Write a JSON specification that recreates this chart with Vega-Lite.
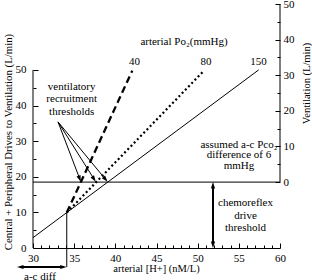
{
  "$schema": "https://vega.github.io/schema/vega-lite/v6.json",
  "width": 247,
  "height": 244,
  "autosize": {"type": "none"},
  "padding": {"left": 33, "top": 4, "right": 32, "bottom": 32},
  "config": {
    "view": {"stroke": null},
    "font": "Liberation Serif",
    "axis": {
      "grid": false,
      "labelFont": "Liberation Serif",
      "titleFont": "Liberation Serif",
      "labelColor": "black",
      "titleColor": "black",
      "tickColor": "black",
      "domainColor": "black",
      "labelFontSize": 11,
      "titleFontSize": 10.5,
      "titleFontWeight": "normal",
      "labelFlush": false,
      "labelOverlap": false
    },
    "text": {"font": "Liberation Serif", "fontSize": 11, "color": "black"}
  },
  "datasets": {
    "segs": [
      {"id": "s150", "g": "thin", "x": 30, "y": 2.9, "x2": 57.41, "y2": 50},
      {"id": "thresh", "g": "thin", "x": 30, "y": 18.5, "x2": 60, "y2": 18.5},
      {"id": "vline", "g": "thin", "x": 34.1, "y": 9.94, "x2": 34.1, "y2": -5.33},
      {"id": "laxis", "g": "thin", "x": 30, "y": 0, "x2": 30, "y2": 50},
      {"id": "r1", "g": "thin", "x": 33.04, "y": 35.4, "x2": 35.67, "y2": 19.45},
      {"id": "r2", "g": "thin", "x": 33.04, "y": 35.4, "x2": 37.41, "y2": 19.36},
      {"id": "r3", "g": "thin", "x": 33.04, "y": 35.4, "x2": 38.81, "y2": 19.28},
      {"id": "p40", "g": "dashed", "x": 34.1, "y": 9.94, "x2": 42.06, "y2": 49.8},
      {"id": "p80", "g": "dotted", "x": 34.1, "y": 9.94, "x2": 50.77, "y2": 49.8},
      {"id": "chemo", "g": "thick", "x": 51.86, "y": 0.91, "x2": 51.86, "y2": 17.62},
      {"id": "acdiff", "g": "thick", "x": 28.45, "y": -5.33, "x2": 33.7, "y2": -5.33}
    ],
    "heads": [
      {"id": "r1", "x": 35.67, "y": 19.45},
      {"id": "r2", "x": 37.41, "y": 19.36},
      {"id": "r3", "x": 38.81, "y": 19.28},
      {"id": "cu", "x": 51.86, "y": 17.62},
      {"id": "cd", "x": 51.86, "y": 0.91},
      {"id": "al", "x": 28.45, "y": -5.33},
      {"id": "ar", "x": 33.7, "y": -5.33}
    ],
    "texts": [
      {"x": 34.7, "y": 45.12, "label": "ventilatory"},
      {"x": 34.7, "y": 41.75, "label": "recruitment"},
      {"x": 34.7, "y": 38.27, "label": "thresholds"},
      {"x": 48.34, "y": 57.83, "label": "arterial Po₂(mmHg)"},
      {"x": 42.33, "y": 52.2, "label": "40"},
      {"x": 51.0, "y": 52.2, "label": "80"},
      {"x": 57.39, "y": 52.2, "label": "150"},
      {"x": 55.02, "y": 28.92, "label": "assumed a-c Pco₂"},
      {"x": 55.02, "y": 26.1, "label": "difference of 6"},
      {"x": 55.02, "y": 22.9, "label": "mmHg"},
      {"x": 55.81, "y": 12.63, "label": "chemoreflex"},
      {"x": 55.81, "y": 8.98, "label": "drive"},
      {"x": 55.81, "y": 5.6, "label": "threshold"},
      {"x": 30.85, "y": -8.14, "label": "a-c diff"}
    ],
    "raxis": [
      {"x": 60, "y": 0, "y2": 50}
    ]
  },
  "encoding": {
    "x": {
      "field": "x",
      "type": "quantitative",
      "scale": {"domain": [30, 60], "nice": false, "zero": false},
      "axis": {
        "values": [30,31,32,33,34,35,36,37,38,39,40,41,42,43,44,45,46,47,48,49,50,51,52,53,54,55,56,57,58,59,60],
        "labelExpr": "datum.value % 5 === 0 ? datum.label : ''",
        "tickSize": {"condition": {"test": "datum.value % 5 === 0", "value": -5}, "value": -3},
        "labelPadding": 9,
        "title": "arterial [H+] (nM/L)",
        "titleX": 123,
        "titleY": 20,
        "titleBaseline": "middle",
        "titleAlign": "center"
      }
    }
  },
  "layer": [
    {
      "encoding": {
        "y": {
          "field": "y",
          "type": "quantitative",
          "scale": {"domain": [0, 68.5], "nice": false, "zero": false},
          "axis": {
            "orient": "left",
            "values": [0,5,10,15,20,25,30,35,40,45,50],
            "labelExpr": "datum.value % 10 === 0 ? datum.label : ''",
            "domain": false,
            "tickSize": {"condition": {"test": "datum.value % 10 === 0", "value": -5}, "value": -3},
            "labelPadding": 12,
            "title": "Central + Peripheral Drives to Ventilation (L/min)",
            "titleFontSize": 10.8,
            "titleAngle": -90,
            "titleX": -25,
            "titleY": 137.5,
            "titleBaseline": "middle",
            "titleAlign": "center"
          }
        }
      },
      "layer": [
        {
          "data": {"name": "segs"},
          "transform": [{"filter": "datum.g === 'thin'"}],
          "mark": {"type": "rule", "color": "black", "strokeWidth": 1},
          "encoding": {"x2": {"field": "x2"}, "y2": {"field": "y2"}}
        },
        {
          "data": {"name": "segs"},
          "transform": [{"filter": "datum.g === 'dashed'"}],
          "mark": {"type": "rule", "color": "black", "strokeWidth": 2.3, "strokeDash": [7, 4]},
          "encoding": {"x2": {"field": "x2"}, "y2": {"field": "y2"}}
        },
        {
          "data": {"name": "segs"},
          "transform": [{"filter": "datum.g === 'dotted'"}],
          "mark": {"type": "rule", "color": "black", "strokeWidth": 2.2, "strokeDash": [2, 2.6]},
          "encoding": {"x2": {"field": "x2"}, "y2": {"field": "y2"}}
        },
        {
          "data": {"name": "segs"},
          "transform": [{"filter": "datum.g === 'thick'"}],
          "mark": {"type": "rule", "color": "black", "strokeWidth": 2},
          "encoding": {"x2": {"field": "x2"}, "y2": {"field": "y2"}}
        },
        {
          "data": {"name": "heads"},
          "mark": {"type": "point", "filled": true, "color": "black", "opacity": 1, "size": 42, "strokeWidth": 0, "shape": "M0,-1L-0.65,1L0.65,1Z"},
          "encoding": {
            "angle": {
              "field": "id",
              "type": "nominal",
              "scale": {"type": "ordinal", "domain": ["r1", "r2", "r3", "cu", "cd", "al", "ar"], "range": [159.1, 147.7, 140.3, 0, 180, 270, 90]},
              "legend": null
            }
          }
        },
        {
          "data": {"name": "texts"},
          "mark": {"type": "text", "align": "center", "baseline": "middle"},
          "encoding": {"text": {"field": "label"}}
        }
      ]
    },
    {
      "data": {"name": "raxis"},
      "mark": {"type": "rule", "color": "black", "strokeWidth": 1},
      "encoding": {
        "y": {
          "field": "y",
          "type": "quantitative",
          "scale": {"domain": [-18.5, 50], "nice": false, "zero": false},
          "axis": {
            "orient": "right",
            "values": [0,5,10,15,20,25,30,35,40,45,50],
            "labelExpr": "datum.value % 10 === 0 ? datum.label : ''",
            "domain": false,
            "tickSize": {"condition": {"test": "datum.value % 10 === 0", "value": -5}, "value": -3},
            "labelPadding": 8,
            "title": "Ventilation (L/min)",
            "titleAngle": -90,
            "titleX": 26,
            "titleY": 79,
            "titleBaseline": "middle",
            "titleAlign": "center"
          }
        },
        "y2": {"field": "y2"}
      }
    }
  ],
  "resolve": {"scale": {"y": "independent"}, "axis": {"y": "independent"}}
}
